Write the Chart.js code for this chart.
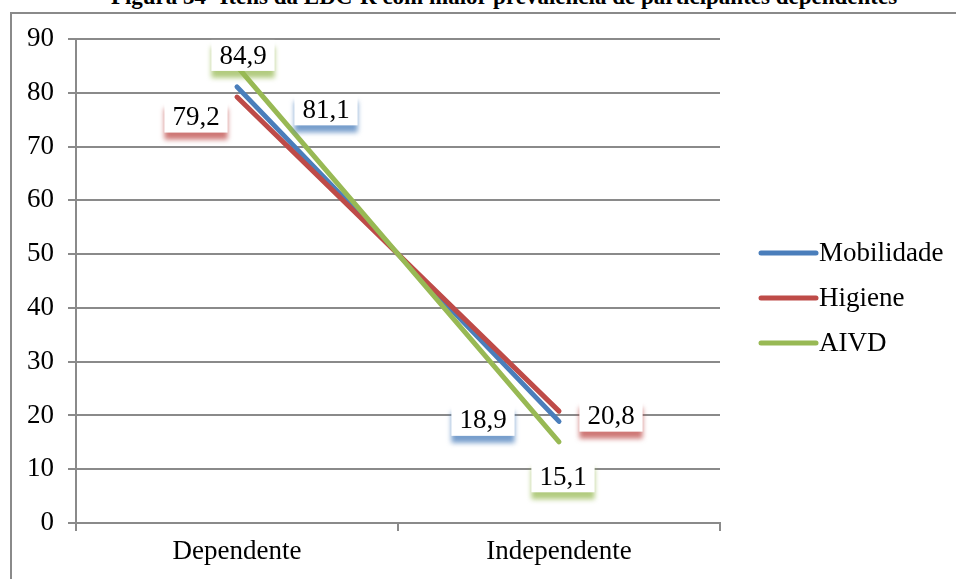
<!DOCTYPE html>
<html>
<head>
<meta charset="utf-8">
<script src="https://cdn.jsdelivr.net/npm/chart.js@4"></script>
<style>
  html, body { margin: 0; padding: 0; background: #fff; overflow: hidden; }
  #wrap { position: relative; width: 956px; height: 579px; overflow: hidden; }
  #frame { position: absolute; left: 10px; top: 12px; width: 1000px; height: 620px;
           border: 2px solid #8a8a8a; box-sizing: border-box; }
  #title { position: absolute; left: 0; width: 1008px; top: -15px; text-align: center;
           font: bold 23px "Liberation Serif", "Times New Roman", serif; line-height: 23px; color: #000; }
  canvas { position: absolute; left: 0; top: 0; }
</style>
</head>
<body>
<div id="wrap">
  <div id="frame"></div>
  <div id="title">Figura 34 -Itens da EDC-R com maior prevalência de participantes dependentes</div>
  <canvas id="chart" width="956" height="579"></canvas>
</div>
<script>
// chart data
const categories = ['Dependente', 'Independente'];
const mobilidade = [81.1, 18.9];
const higiene = [79.2, 20.8];
const aivd = [84.9, 15.1];
const yMin = 0, yMax = 90, yStep = 10;

const seriesNames = ['Mobilidade', 'Higiene', 'AIVD'];
const seriesColors = ['#4a7ebb', '#be4b48', '#98b954'];

// where each data label sits relative to its point (px)
const labelOffsets = [
    [{ dx: 89, dy: 23 }, { dx: -76, dy: -1 }],
    [{ dx: -41, dy: 20 }, { dx: 52, dy: 5 }],
    [{ dx: 6, dy: -11 }, { dx: 4, dy: 35 }]
];

const FONT = '"Liberation Serif", "Times New Roman", serif';
const GRID = '#8a8a8a';

function fmt(v) {
    return v.toFixed(1).replace('.', ',');
}

// Data labels: white box with a soft coloured band underneath
const dataLabels = {
    id: 'dataLabels',
    afterDatasetsDraw(chart) {
        const ctx = chart.ctx;
        ctx.save();
        ctx.font = '27px ' + FONT;
        ctx.textAlign = 'center';
        ctx.textBaseline = 'middle';
        chart.data.datasets.forEach((ds, i) => {
            const meta = chart.getDatasetMeta(i);
            meta.data.forEach((pt, j) => {
                const off = labelOffsets[i][j];
                const cx = pt.x + off.dx;
                const cy = pt.y + off.dy;
                const txt = fmt(ds.data[j]);
                const w = ctx.measureText(txt).width + 16;
                const h = 31;
                ctx.save();
                ctx.filter = 'blur(2.5px)';
                ctx.globalAlpha = 0.75;
                ctx.fillStyle = ds.borderColor;
                ctx.fillRect(cx - w / 2, cy - h / 2 + 7, w, h);
                ctx.restore();
                ctx.fillStyle = '#fff';
                ctx.fillRect(cx - w / 2, cy - h / 2, w, h);
                ctx.fillStyle = '#000';
                ctx.fillText(txt, cx, cy + 1);
            });
        });
        ctx.restore();
    }
};

// Legend on the right, line sample then name
const sideLegend = {
    id: 'sideLegend',
    afterDraw(chart) {
        const ctx = chart.ctx;
        const x0 = 761, x1 = 816, yStart = 253, gap = 45;
        ctx.save();
        ctx.font = '27px ' + FONT;
        ctx.textBaseline = 'middle';
        ctx.textAlign = 'left';
        ctx.lineCap = 'round';
        chart.data.datasets.forEach((ds, i) => {
            const y = yStart + i * gap;
            ctx.strokeStyle = ds.borderColor;
            ctx.lineWidth = 5;
            ctx.beginPath();
            ctx.moveTo(x0, y);
            ctx.lineTo(x1, y);
            ctx.stroke();
            ctx.fillStyle = '#000';
            ctx.fillText(ds.label, x1 + 3, y + 1);
        });
        ctx.restore();
    }
};

const seriesData = [mobilidade, higiene, aivd];

new Chart(document.getElementById('chart'), {
    type: 'line',
    data: {
        labels: categories,
        datasets: seriesData.map((d, i) => ({
            label: seriesNames[i],
            data: d,
            borderColor: seriesColors[i],
            backgroundColor: seriesColors[i],
            borderWidth: 5,
            borderCapStyle: 'round',
            pointRadius: 0,
            tension: 0,
            order: 2 - i
        }))
    },
    options: {
        responsive: false,
        animation: false,
        layout: { padding: { left: 10, top: 39, right: 236, bottom: 0 } },
        plugins: {
            legend: { display: false },
            tooltip: { enabled: false }
        },
        scales: {
            x: {
                offset: true,
                afterFit: (s) => { s.height = 56; },
                grid: { offset: true, drawOnChartArea: false, tickLength: 8, color: GRID, lineWidth: 2 },
                border: { color: GRID, width: 2 },
                ticks: { color: '#000', font: { family: FONT, size: 27 }, padding: 5, maxRotation: 0 }
            },
            y: {
                min: yMin,
                max: yMax,
                afterFit: (s) => { s.width = 66; },
                grid: { color: GRID, lineWidth: 2, tickLength: 8 },
                border: { color: GRID, width: 2 },
                ticks: { stepSize: yStep, color: '#000', font: { family: FONT, size: 27 }, padding: 14 }
            }
        }
    },
    plugins: [dataLabels, sideLegend]
});
</script>
</body>
</html>
